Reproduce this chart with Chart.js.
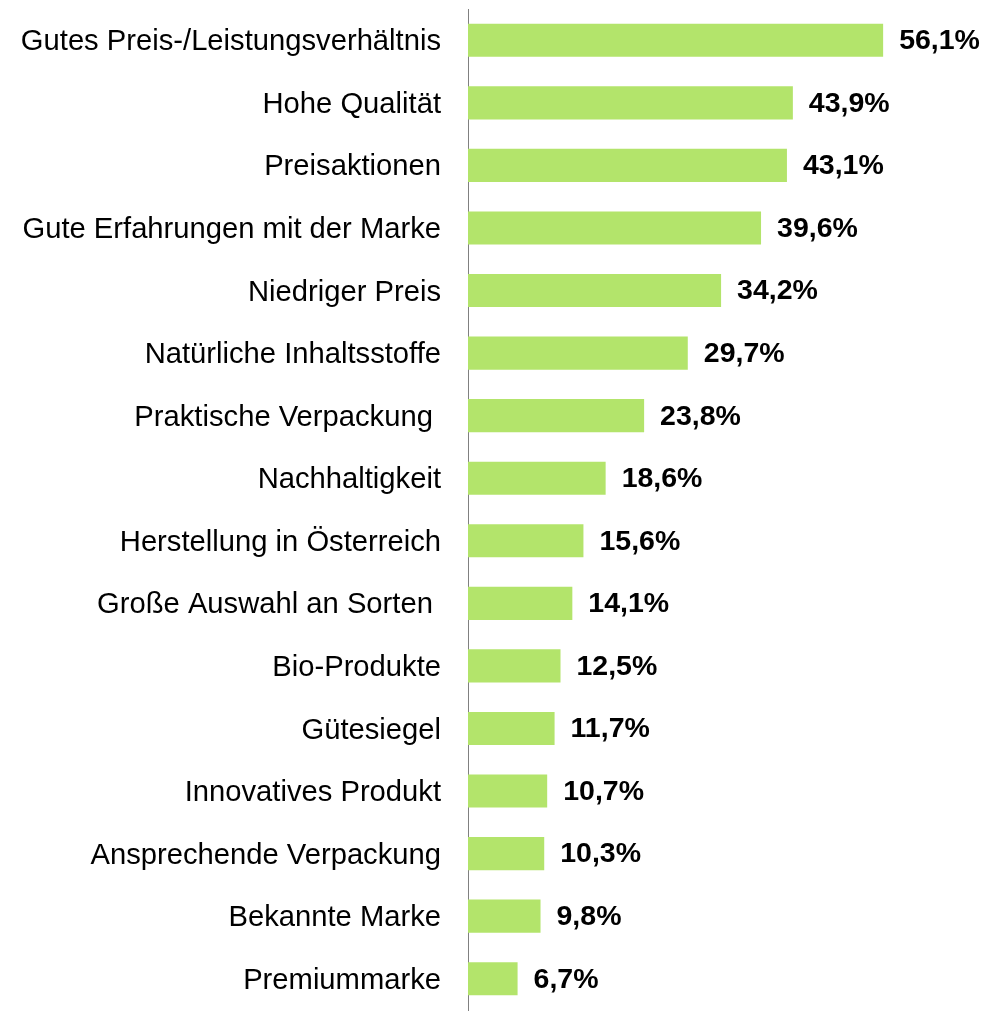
<!DOCTYPE html>
<html>
<head>
<meta charset="utf-8">
<script src="https://cdn.jsdelivr.net/npm/chart.js@4.4.0/dist/chart.umd.min.js"></script>
<style>
    body { margin: 0; background: #fff; }
    #wrap { width: 998px; height: 1012px; position: relative; }
</style>
</head>
<body>
<div id="wrap"><canvas id="chart"></canvas></div>
<script>
// Reasons for buying (share of respondents, %)
const categories = [
    'Gutes Preis-/Leistungsverhältnis',
    'Hohe Qualität',
    'Preisaktionen',
    'Gute Erfahrungen mit der Marke',
    'Niedriger Preis',
    'Natürliche Inhaltsstoffe',
    'Praktische Verpackung ',
    'Nachhaltigkeit',
    'Herstellung in Österreich',
    'Große Auswahl an Sorten ',
    'Bio-Produkte',
    'Gütesiegel',
    'Innovatives Produkt',
    'Ansprechende Verpackung',
    'Bekannte Marke',
    'Premiummarke'
];
const shares = [56.1, 43.9, 43.1, 39.6, 34.2, 29.7, 23.8, 18.6, 15.6, 14.1, 12.5, 11.7, 10.7, 10.3, 9.8, 6.7];

const barColor = '#b3e46b';
const fontFamily = '"Liberation Sans", Arial, sans-serif';

// draws the "56,1%" labels right of each bar
const valueLabels = {
    id: 'valueLabels',
    afterDatasetsDraw(chart) {
        const ctx = chart.ctx;
        const meta = chart.getDatasetMeta(0);
        ctx.save();
        ctx.font = 'bold 28.5px ' + fontFamily;
        ctx.fillStyle = '#000';
        ctx.textAlign = 'left';
        ctx.textBaseline = 'middle';
        meta.data.forEach((bar, i) => {
            const txt = shares[i].toFixed(1).replace('.', ',') + '%';
            ctx.fillText(txt, bar.x + 16, bar.y + 1);
        });
        ctx.restore();
    }
};

new Chart(document.getElementById('chart'), {
    type: 'bar',
    data: {
        labels: categories,
        datasets: [{
            data: shares,
            backgroundColor: barColor,
            categoryPercentage: 1,
            barPercentage: 0.53
        }]
    },
    options: {
        indexAxis: 'y',
        responsive: true,
        maintainAspectRatio: false,
        animation: false,
        layout: { padding: { top: 9, bottom: 2, left: 0, right: 86 } },
        plugins: {
            legend: { display: false },
            tooltip: { enabled: false }
        },
        scales: {
            x: {
                display: false,
                min: 0,
                max: 60
            },
            y: {
                afterFit(scale) {
                    scale.width = 468;
                    scale.paddingTop = 0;
                    scale.paddingBottom = 0;
                },
                grid: { display: false, drawTicks: false },
                border: { display: true, color: '#808080', width: 1 },
                ticks: {
                    padding: 27,
                    labelOffset: 2,
                    color: '#000',
                    font: { family: fontFamily, size: 29.2 }
                }
            }
        }
    },
    plugins: [valueLabels]
});
</script>
</body>
</html>
